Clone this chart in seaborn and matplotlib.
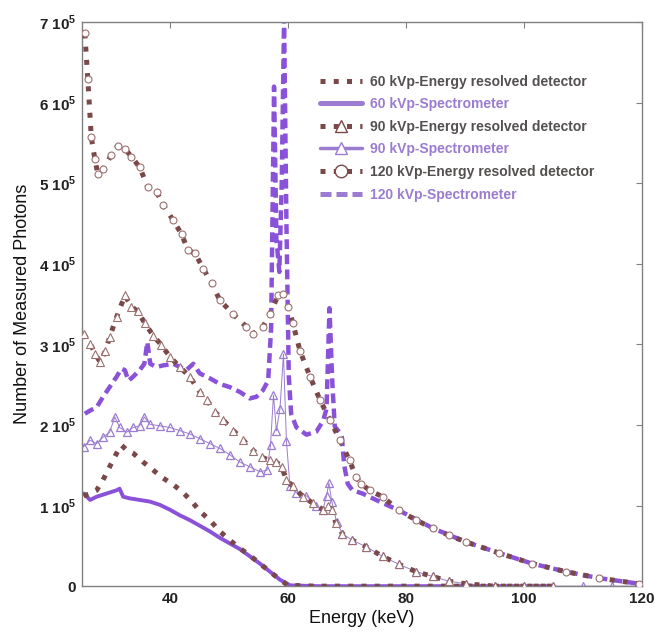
import matplotlib
matplotlib.use("Agg")
import matplotlib.pyplot as plt
from matplotlib.lines import Line2D
from matplotlib.ticker import FixedLocator, FuncFormatter
import seaborn as sns
import pandas as pd

# ---------------- data (energy in keV, counts in units of 1e5) ----------------
e_60_erd = [25.3, 26.4, 27.5, 28.6, 29.7, 30.9, 31.7, 32.6, 33.7, 35.4, 37.1, 38.8, 40.5, 42.2,
            43.9, 45.0, 46.7, 48.4, 50.1, 51.8, 53.5, 55.2, 56.9, 58.6, 60.0, 65, 70, 80, 90, 100, 105]
v_60_erd = [1.12, 1.15, 1.19, 1.32, 1.48, 1.65, 1.75, 1.69, 1.65, 1.54, 1.44, 1.34, 1.26, 1.16,
            1.03, 0.93, 0.82, 0.68, 0.57, 0.47, 0.38, 0.28, 0.18, 0.08, 0.01, 0, 0, 0, 0, 0, 0]

e_60_spec = [25.3, 26.4, 27.5, 29.2, 30.9, 31.4, 32.0, 33.1, 34.8, 36.5, 38.2, 39.9, 41.6, 43.3,
             45.0, 46.7, 48.4, 50.1, 51.8, 53.5, 55.2, 56.9, 58.6, 60.3, 65, 70, 80, 90, 100, 105]
v_60_spec = [1.15, 1.07, 1.11, 1.15, 1.19, 1.21, 1.11, 1.09, 1.07, 1.05, 1.01, 0.95, 0.88, 0.82,
             0.75, 0.68, 0.60, 0.53, 0.46, 0.37, 0.28, 0.18, 0.08, 0.01, 0, 0, 0, 0, 0, 0]

e_90_erd = [25.3, 26.4, 27.3, 28.1, 29.0, 29.7, 30.9, 32.3, 33.4, 34.5, 35.7, 37.1, 38.5, 39.9,
            41.6, 43.3, 45.0, 46.2, 47.6, 49.0, 50.7, 52.4, 54.1, 55.5, 56.9, 58.0, 58.9, 59.7,
            60.8, 62.5, 64.2, 65.9, 66.8, 67.4, 68.1, 69.2, 70.9, 73.2, 76.0, 78.8, 81.7, 84.5,
            87.3, 90.1, 95, 100, 105]
v_90_erd = [3.13, 3.01, 2.88, 2.78, 2.92, 3.09, 3.34, 3.61, 3.47, 3.41, 3.26, 3.11, 2.99, 2.85,
            2.72, 2.60, 2.41, 2.31, 2.16, 2.06, 1.93, 1.81, 1.68, 1.60, 1.56, 1.54, 1.48, 1.32,
            1.24, 1.11, 1.03, 0.95, 1.00, 0.95, 0.78, 0.65, 0.57, 0.49, 0.37, 0.27, 0.18, 0.12,
            0.06, 0.03, 0, 0, 0]

e_90_spec = [25.3, 26.4, 27.5, 28.6, 29.7, 30.6, 31.4, 32.6, 33.7, 34.8, 35.6, 36.5, 38.2, 39.9,
             41.6, 43.3, 45.0, 46.7, 48.4, 50.1, 51.8, 53.5, 55.2, 56.4, 57.0, 57.5, 58.0, 58.6,
             59.2, 59.7, 60.3, 61.4, 63.1, 64.8, 65.9, 66.5, 66.9, 67.4, 68.2, 69.2, 70.9, 73.2,
             76.0, 78.8, 81.7, 84.5, 87.3, 90.1, 95, 100, 105, 110, 115, 120]
v_90_spec = [1.73, 1.81, 1.77, 1.85, 1.91, 2.10, 1.97, 1.91, 1.97, 1.99, 2.10, 2.01, 1.99, 1.97,
             1.93, 1.89, 1.83, 1.77, 1.71, 1.63, 1.54, 1.48, 1.42, 1.44, 1.75, 2.37, 1.93, 2.20,
             2.88, 1.80, 1.24, 1.16, 1.12, 1.00, 0.95, 1.12, 1.28, 1.05, 0.80, 0.65, 0.57, 0.49,
             0.37, 0.27, 0.18, 0.12, 0.06, 0.03, 0, 0, 0, 0, 0, 0]

e_120_erd = [25.5, 26.0, 26.6, 27.2, 27.7, 28.6, 30.0, 31.1, 32.3, 33.4, 34.8, 36.2, 37.7, 38.8,
             40.5, 41.9, 43.0, 44.2, 45.6, 47.0, 48.4, 50.6, 52.9, 54.0, 55.7, 56.9, 58.3, 59.2,
             60.0, 60.8, 62.0, 63.7, 65.4, 67.1, 68.8, 70.4, 71.5, 72.4, 73.8, 76.0, 78.8, 81.7,
             84.5, 87.3, 90.1, 95.8, 101.4, 107.1, 112.7, 119.5]
v_120_erd = [6.86, 6.30, 5.57, 5.30, 5.12, 5.18, 5.35, 5.46, 5.43, 5.33, 5.20, 4.95, 4.89, 4.73,
             4.54, 4.37, 4.17, 4.13, 3.94, 3.76, 3.55, 3.38, 3.22, 3.13, 3.22, 3.38, 3.61, 3.63,
             3.47, 3.26, 2.92, 2.60, 2.31, 2.06, 1.81, 1.56, 1.36, 1.27, 1.19, 1.11, 0.94, 0.82,
             0.72, 0.63, 0.55, 0.41, 0.28, 0.18, 0.10, 0.03]

e_120_spec = [25.5, 26.4, 27.5, 28.6, 29.7, 30.9, 31.7, 32.3, 32.9, 33.7, 34.8, 35.6, 36.1, 36.6,
              37.6, 38.8, 40.5, 41.6, 42.7, 43.9, 45.0, 46.7, 48.4, 50.1, 51.8, 53.5, 54.6, 55.7,
              56.6, 57.1, 57.6, 58.0, 58.5, 58.9, 59.3, 59.7, 60.1, 60.5, 61.4, 63.1, 64.8, 65.9,
              66.5, 67.0, 67.5, 67.9, 68.7, 69.1, 69.5, 70.1, 70.9, 72.6, 74.9, 78.8, 84.5, 90.1,
              95.8, 101.4, 107.1, 112.7, 119.5]
v_120_spec = [2.14, 2.18, 2.22, 2.35, 2.47, 2.60, 2.70, 2.68, 2.55, 2.60, 2.68, 2.76, 3.03, 2.76,
              2.72, 2.74, 2.76, 2.72, 2.68, 2.76, 2.64, 2.58, 2.51, 2.47, 2.41, 2.33, 2.35, 2.43,
              2.55, 3.20, 6.20, 4.30, 3.90, 5.00, 7.05, 4.50, 2.60, 2.14, 1.97, 1.88, 1.92, 2.05,
              2.20, 3.45, 2.50, 1.98, 1.91, 1.85, 1.50, 1.27, 1.19, 1.15, 1.07, 0.94, 0.72, 0.55,
              0.41, 0.28, 0.18, 0.10, 0.03]

labels = ["60 kVp-Energy resolved detector", "60 kVp-Spectrometer",
          "90 kVp-Energy resolved detector", "90 kVp-Spectrometer",
          "120 kVp-Energy resolved detector", "120 kVp-Spectrometer"]

x_ticks = [40, 60, 80, 100, 120]
y_ticks = [0, 1, 2, 3, 4, 5, 6, 7]

# ---------------- style ----------------
sns.set_style("white")
plt.rcParams["font.family"] = ["Liberation Sans", "DejaVu Sans"]
plt.rcParams["mathtext.fontset"] = "custom"
plt.rcParams["mathtext.rm"] = "Liberation Sans:bold"
plt.rcParams["mathtext.bf"] = "Liberation Sans:bold"

BROWN = "#7a4848"
BROWN_M = "#9a7070"
PURPLE = "#8a52d8"
PURPLE_L = "#9b7cd0"

fig = plt.figure(figsize=(6.55, 6.33), dpi=100)
ax = fig.add_axes([0.125, 0.074, 0.855, 0.891])

def S(e, v):
    return pd.DataFrame({"E": e, "N": [x * 1e5 for x in v]})

# 60 kVp
sns.lineplot(data=S(e_60_erd, v_60_erd), x="E", y="N", ax=ax, color=BROWN,
             linestyle=":", linewidth=3.6, zorder=3)
sns.lineplot(data=S(e_60_spec, v_60_spec), x="E", y="N", ax=ax, color=PURPLE,
             linestyle="-", linewidth=2.8, zorder=2)
# 90 kVp
sns.lineplot(data=S(e_90_spec, v_90_spec), x="E", y="N", ax=ax, color=PURPLE_L,
             linestyle="-", linewidth=0.7, marker="^", markersize=5.5,
             markerfacecolor="none", markeredgecolor=PURPLE_L, markeredgewidth=0.9, zorder=2)
sns.lineplot(data=S(e_90_erd, v_90_erd), x="E", y="N", ax=ax, color=BROWN,
             linestyle=":", linewidth=3.6, marker="^", markersize=6,
             markerfacecolor="white", markeredgecolor=BROWN_M, markeredgewidth=0.8, zorder=3)
# 120 kVp
sns.lineplot(data=S(e_120_spec, v_120_spec), x="E", y="N", ax=ax, color=PURPLE,
             linestyle=(0, (2.2, 1.2)), linewidth=3.2, zorder=2)
sns.lineplot(data=S(e_120_erd, v_120_erd), x="E", y="N", ax=ax, color=BROWN,
             linestyle=":", linewidth=3.6, marker="o", markersize=5,
             markerfacecolor="white", markeredgecolor=BROWN_M, markeredgewidth=0.8, zorder=3)

ax.set_xlim(25, 120)
ax.set_ylim(0, 7e5)
ax.xaxis.set_major_locator(FixedLocator(x_ticks))
ax.yaxis.set_major_locator(FixedLocator([t * 1e5 for t in y_ticks]))

def yfmt(v, pos):
    n = int(round(v / 1e5))
    return "0" if n == 0 else f"{n} 10$^5$"

ax.yaxis.set_major_formatter(FuncFormatter(yfmt))
ax.tick_params(direction="in", length=4, width=0.8, color="#808080",
               top=True, right=True, labelsize=11, pad=4)
for lab in ax.get_xticklabels() + ax.get_yticklabels():
    lab.set_fontweight("bold")
    lab.set_color("#222222")
for sp in ax.spines.values():
    sp.set_color("#808080")
    sp.set_linewidth(1.0)

ax.set_xlabel("Energy (keV)", fontsize=13, labelpad=3, color="#111111")
ax.set_ylabel("Number of Measured Photons", fontsize=13, labelpad=6, color="#111111")

handles = [
    Line2D([], [], color=BROWN, linestyle=":", linewidth=3.6),
    Line2D([], [], color=PURPLE_L, linestyle="-", linewidth=3.6),
    Line2D([], [], color=BROWN, linestyle=":", linewidth=3.6, marker="^", markersize=9,
           markerfacecolor="white", markeredgecolor=BROWN, markevery=[1]),
    Line2D([], [], color=PURPLE_L, linestyle="-", linewidth=2.5, marker="^", markersize=9,
           markerfacecolor="white", markeredgecolor=PURPLE_L, markevery=[1]),
    Line2D([], [], color=BROWN, linestyle=":", linewidth=3.6, marker="o", markersize=9,
           markerfacecolor="white", markeredgecolor=BROWN, markevery=[1]),
    Line2D([], [], color=PURPLE_L, linestyle=(0, (2.2, 1.0)), linewidth=3.6),
]
leg = ax.legend(handles, labels, loc="upper left", bbox_to_anchor=(0.415, 0.917),
                frameon=False, prop={"weight": "bold", "size": 10},
                handlelength=3.0, handletextpad=0.6, labelspacing=0.62, borderaxespad=0)
txt_cols = ["#555050", PURPLE_L, "#555050", PURPLE_L, "#555050", PURPLE_L]
for t, c in zip(leg.get_texts(), txt_cols):
    t.set_color(c)

fig.savefig("out.png", dpi=100)
